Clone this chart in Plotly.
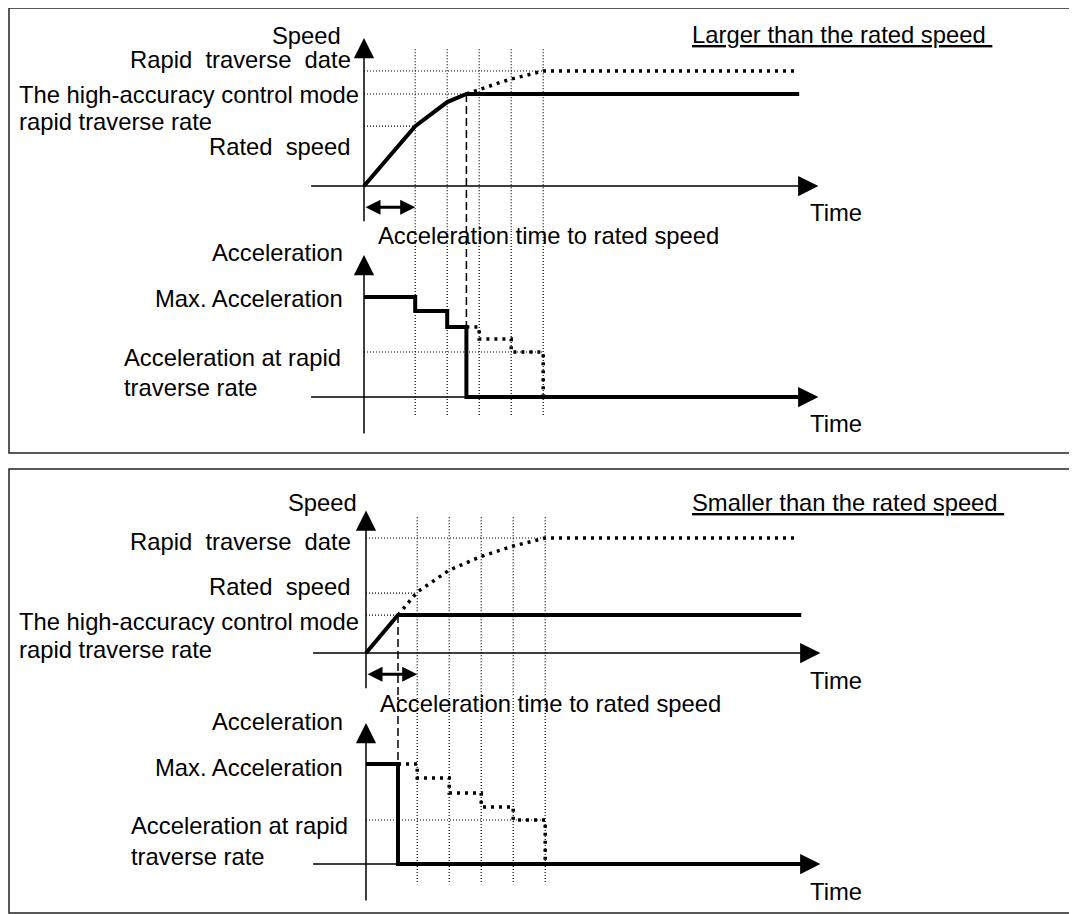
import plotly.graph_objects as go

# page body has an 8px margin; the figure is placed inside it
OFF = 8
W, H = 1077 - OFF, 914 - OFF

# ---------------- data ----------------
# time in grid units, speed in % of rapid traverse date, acceleration in % of max acceleration
grid_t = [1.6, 2.6, 3.6, 4.6, 5.6]

# top panel : larger than the rated speed
top_levels = {"rapid": 100, "ha": 80, "rated": 52}
top_reach_t = 3.2
top_speed_t = [0, 1.6, 2.6, 3.2, 13.6]
top_speed_v = [0, 52, 73, 80, 80]
top_speed_dot_t = [3.2, 3.6, 4.25, 4.6, 5.25, 5.6, 13.5]
top_speed_dot_v = [80, 84, 90, 93, 97.5, 100, 100]
top_acc_t = [0, 1.6, 1.6, 2.6, 2.6, 3.2, 3.2, 13.6]
top_acc_v = [100, 100, 86, 86, 70, 70, 0, 0]
top_acc_dot_t = [3.2, 3.6, 3.6, 4.6, 4.6, 5.6, 5.6]
top_acc_dot_v = [70, 70, 58, 58, 45, 45, 0]
top_acc_rapid = 45

# bottom panel : smaller than the rated speed
bot_levels = {"rapid": 100, "ha": 33, "rated": 52}
bot_reach_t = 1.0
bot_speed_t = [0, 1.0, 13.6]
bot_speed_v = [0, 33, 33]
bot_speed_dot_t = [1.0, 1.6, 2.6, 3.6, 4.6, 5.6, 13.5]
bot_speed_dot_v = [33, 53, 72, 84, 93, 100, 100]
bot_acc_t = [0, 1.0, 1.0, 13.6]
bot_acc_v = [100, 100, 0, 0]
bot_acc_dot_t = [1.0, 1.6, 1.6, 2.6, 2.6, 3.6, 3.6, 4.6, 4.6, 5.6, 5.6]
bot_acc_dot_v = [100, 100, 86, 86, 71, 71, 57, 57, 44, 44, 0]
bot_acc_rapid = 44

# labels
speed_labels = ["Speed", "Rapid\u00a0 traverse\u00a0 date", "The high-accuracy control mode",
                "rapid traverse rate", "Rated\u00a0 speed"]
acc_labels = ["Acceleration", "Max. Acceleration", "Acceleration at rapid", "traverse rate"]
titles = ["Larger than the rated speed\u00a0", "Smaller than the rated speed\u00a0"]
time_label = "Time"
acc_time_label = "Acceleration time to rated speed"

# ---------------- layout geometry (page pixels) ----------------
TPX = 32.0  # px per time unit
panels = [
    dict(x0=364, sb=186, ss=1.15, ab=397, as_=1.0, top=20, split=230, bot=445,
         xa="x", ya="y", ya2="y2"),
    dict(x0=366, sb=653, ss=1.15, ab=864, as_=1.0, top=485, split=697, bot=912,
         xa="x2", ya="y3", ya2="y4"),
]

FONT = dict(family="Liberation Sans, Arial, sans-serif", size=23.8, color="black")

fig = go.Figure()
layout = dict(width=W, height=H, margin=dict(l=0, r=0, t=0, b=0),
              paper_bgcolor="white", plot_bgcolor="white", showlegend=False)


def px_x(p):
    return (p - OFF) / W


def px_y(p):
    return 1 - (p - OFF) / H


for i, P in enumerate(panels):
    xname = "xaxis" if i == 0 else "xaxis2"
    yname1 = "yaxis" if i == 0 else "yaxis3"
    yname2 = "yaxis2" if i == 0 else "yaxis4"
    xr = [-4, 16]
    layout[xname] = dict(domain=[px_x(P["x0"] + xr[0] * TPX), px_x(P["x0"] + xr[1] * TPX)],
                         range=xr, visible=False, anchor=P["ya"], fixedrange=True)
    layout[yname1] = dict(domain=[px_y(P["split"]), px_y(P["top"])],
                          range=[(P["sb"] - P["split"]) / P["ss"], (P["sb"] - P["top"]) / P["ss"]],
                          visible=False, anchor=P["xa"], fixedrange=True)
    layout[yname2] = dict(domain=[max(0, px_y(P["bot"])), px_y(P["split"])],
                          range=[(P["ab"] - P["bot"]) / P["as_"], (P["ab"] - P["split"]) / P["as_"]],
                          visible=False, anchor=P["xa"], fixedrange=True)


def line(t, v, xa, ya, width, dash="solid", color="black"):
    fig.add_trace(go.Scatter(x=t, y=v, xaxis=xa, yaxis=ya, mode="lines",
                             line=dict(color=color, width=width, dash=dash),
                             hoverinfo="skip"))


THIN_DOT = "1px,2px"
THICK_DOT = "3px,5px"
DASH = "8px,4px"

data = [
    dict(lv=top_levels, reach=top_reach_t, st=top_speed_t, sv=top_speed_v,
         sdt=top_speed_dot_t, sdv=top_speed_dot_v, at=top_acc_t, av=top_acc_v,
         adt=top_acc_dot_t, adv=top_acc_dot_v, ar=top_acc_rapid,
         reach_acc=70, gtop=119, gbot=-18, stip=128.7, atip=142),
    dict(lv=bot_levels, reach=bot_reach_t, st=bot_speed_t, sv=bot_speed_v,
         sdt=bot_speed_dot_t, sdv=bot_speed_dot_v, at=bot_acc_t, av=bot_acc_v,
         adt=bot_acc_dot_t, adv=bot_acc_dot_v, ar=bot_acc_rapid,
         reach_acc=100, gtop=118, gbot=-19, stip=124, atip=141),
]

annotations = []
shapes = []

for P, D in zip(panels, data):
    xa, ya, ya2 = P["xa"], P["ya"], P["ya2"]
    # vertical grid lines crossing both sub-plots
    for g in grid_t:
        line([g, g], [D["gtop"], -200], xa, ya, 1.2, THIN_DOT)
        line([g, g], [400, D["gbot"]], xa, ya2, 1.2, THIN_DOT)
    # horizontal reference levels
    lv = D["lv"]
    line([0, grid_t[-1]], [lv["rapid"], lv["rapid"]], xa, ya, 1.2, THIN_DOT)
    line([0, D["reach"]], [lv["ha"], lv["ha"]], xa, ya, 1.2, THIN_DOT)
    line([0, grid_t[0]], [lv["rated"], lv["rated"]], xa, ya, 1.2, THIN_DOT)
    line([0, grid_t[-1]], [D["ar"], D["ar"]], xa, ya2, 1.2, THIN_DOT)
    # dashed line at reaching time
    line([D["reach"], D["reach"]], [lv["ha"], -200], xa, ya, 1.5, DASH)
    line([D["reach"], D["reach"]], [400, D["reach_acc"]], xa, ya2, 1.5, DASH)
    # curves
    line(D["sdt"], D["sdv"], xa, ya, 3.5, THICK_DOT)
    line(D["st"], D["sv"], xa, ya, 4)
    line(D["adt"], D["adv"], xa, ya2, 3.5, THICK_DOT)
    line(D["at"], D["av"], xa, ya2, 4)

    # axes with arrow heads
    def arrow(x, y, ax, ay, yref, w=1.5, size=2.7, both=False):
        a = dict(x=x, y=y, ax=ax, ay=ay, xref=xa, yref=yref, axref=xa, ayref=yref,
                 text="", showarrow=True, arrowhead=2, arrowsize=size, arrowwidth=w,
                 arrowcolor="black")
        if both:
            a.update(arrowside="end+start", startarrowhead=2, startarrowsize=size)
        annotations.append(a)

    arrow(14.2, 0, -1.7, 0, ya)
    arrow(0, D["stip"], 0, -32, ya)
    arrow(14.2, 0, -1.7, 0, ya2)
    arrow(0, D["atip"], 0, -38, ya2)
    arrow(grid_t[0], -18.5, 0, -18.5, ya, w=3, size=1, both=True)


def label(text, xpx, ypx, anchor):
    annotations.append(dict(text=text, x=px_x(xpx), y=px_y(ypx), xref="paper", yref="paper",
                            xanchor=anchor, yanchor="middle", showarrow=False, font=FONT))


# top panel texts
label(speed_labels[0], 343, 35, "right")
label(speed_labels[1], 353, 60, "right")
label(speed_labels[2], 17, 94, "left")
label(speed_labels[3], 17, 122, "left")
label(speed_labels[4], 353, 146, "right")
label("<u>" + titles[0] + "</u>", 690, 34, "left")
label(time_label, 808, 212, "left")
label(acc_time_label, 376, 236, "left")
label(acc_labels[0], 345, 252, "right")
label(acc_labels[1], 345, 298, "right")
label(acc_labels[2], 122, 357, "left")
label(acc_labels[3], 122, 388, "left")
label(time_label, 808, 423, "left")

# bottom panel texts
label(speed_labels[0], 359, 502, "right")
label(speed_labels[1], 353, 541, "right")
label(speed_labels[4], 353, 586, "right")
label(speed_labels[2], 17, 621, "left")
label(speed_labels[3], 17, 649, "left")
label("<u>" + titles[1] + "</u>", 690, 502, "left")
label(time_label, 808, 680, "left")
label(acc_time_label, 378, 703, "left")
label(acc_labels[0], 345, 721, "right")
label(acc_labels[1], 345, 767, "right")
label(acc_labels[2], 129, 825, "left")
label(acc_labels[3], 129, 856, "left")
label(time_label, 808, 891, "left")

# frames
for (y0, y1) in [(8, 453), (469, 913)]:
    shapes.append(dict(type="rect", xref="paper", yref="paper",
                       x0=px_x(9), x1=px_x(1070), y0=px_y(y1), y1=px_y(y0),
                       line=dict(color="#222", width=1.5)))

layout["annotations"] = annotations
layout["shapes"] = shapes
fig.update_layout(**layout)
fig.write_html("out.html", config={"displayModeBar": False})
